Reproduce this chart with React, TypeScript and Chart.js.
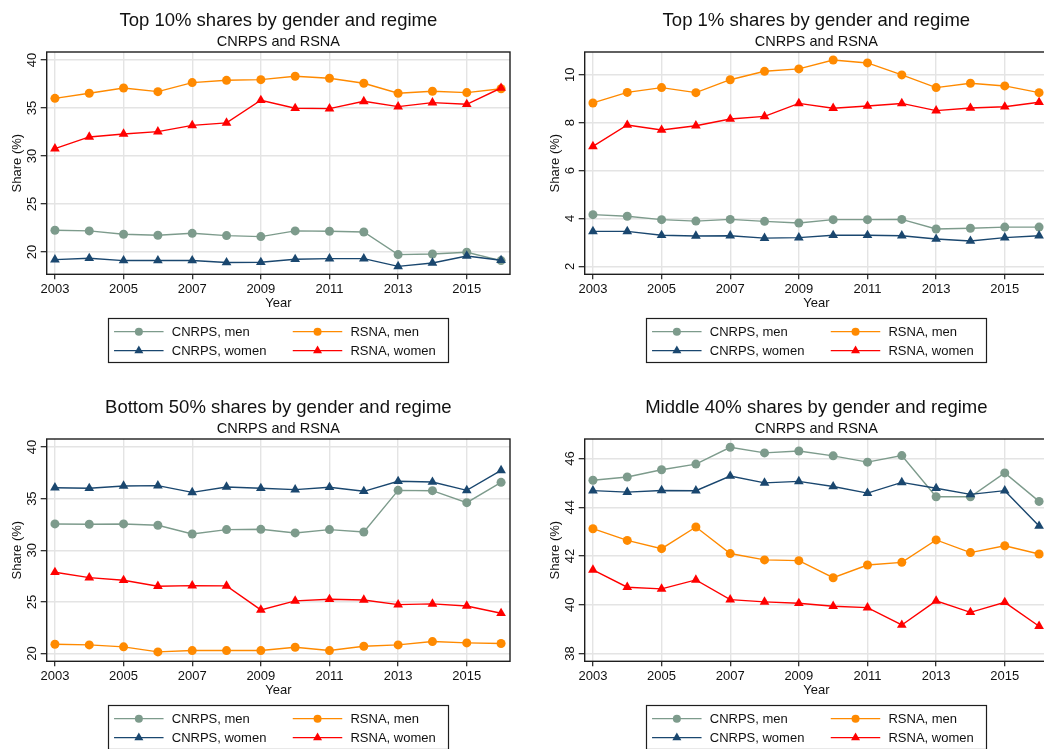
import React, { useEffect, useRef } from "react";
import { Chart, registerables } from "chart.js";

Chart.register(...registerables);

// ---------- DATA ----------
const years = [2003, 2004, 2005, 2006, 2007, 2008, 2009, 2010, 2011, 2012, 2013, 2014, 2015, 2016];
const xTickYears = [2003, 2005, 2007, 2009, 2011, 2013, 2015];

const legendLabels = ["CNRPS, men", "RSNA, men", "CNRPS, women", "RSNA, women"];

// Top 10%
const top10CnrpsMen = [22.26, 22.19, 21.84, 21.74, 21.94, 21.7, 21.6, 22.19, 22.15, 22.08, 19.72, 19.79, 19.97, 19.1];
const top10CnrpsWomen = [19.2, 19.34, 19.1, 19.1, 19.1, 18.9, 18.92, 19.24, 19.3, 19.3, 18.5, 18.85, 19.58, 19.13];
const top10RsnaMen = [36.0, 36.53, 37.08, 36.7, 37.64, 37.88, 37.95, 38.3, 38.09, 37.57, 36.53, 36.74, 36.6, 37.0];
const top10RsnaWomen = [30.76, 31.98, 32.29, 32.53, 33.19, 33.44, 35.8, 34.97, 34.93, 35.69, 35.14, 35.56, 35.38, 37.08];
const top10YTicks = [20, 25, 30, 35, 40];

// Top 1%
const top1CnrpsMen = [4.16, 4.09, 3.95, 3.89, 3.96, 3.88, 3.81, 3.95, 3.95, 3.96, 3.56, 3.59, 3.64, 3.64];
const top1CnrpsWomen = [3.46, 3.46, 3.3, 3.27, 3.28, 3.18, 3.2, 3.3, 3.3, 3.28, 3.14, 3.06, 3.2, 3.28];
const top1RsnaMen = [8.82, 9.26, 9.46, 9.25, 9.79, 10.14, 10.24, 10.61, 10.49, 9.99, 9.46, 9.64, 9.53, 9.25];
const top1RsnaWomen = [7.01, 7.9, 7.69, 7.87, 8.15, 8.26, 8.8, 8.6, 8.69, 8.8, 8.5, 8.61, 8.66, 8.85];
const top1YTicks = [2, 4, 6, 8, 10];

// Bottom 50%
const bot50CnrpsMen = [32.55, 32.52, 32.55, 32.42, 31.58, 32.0, 32.03, 31.68, 32.0, 31.77, 35.8, 35.77, 34.61, 36.58];
const bot50CnrpsWomen = [36.06, 36.0, 36.23, 36.26, 35.61, 36.13, 36.0, 35.87, 36.1, 35.71, 36.68, 36.61, 35.8, 37.74];
const bot50RsnaMen = [20.9, 20.84, 20.65, 20.16, 20.29, 20.29, 20.29, 20.61, 20.29, 20.71, 20.84, 21.16, 21.03, 20.97];
const bot50RsnaWomen = [27.87, 27.35, 27.1, 26.52, 26.58, 26.55, 24.23, 25.1, 25.26, 25.19, 24.74, 24.81, 24.61, 23.9];
const bot50YTicks = [20, 25, 30, 35, 40];

// Middle 40%
const mid40CnrpsMen = [45.11, 45.24, 45.54, 45.77, 46.46, 46.23, 46.31, 46.11, 45.85, 46.12, 44.43, 44.43, 45.41, 44.24];
const mid40CnrpsWomen = [44.68, 44.62, 44.69, 44.68, 45.28, 45.0, 45.06, 44.85, 44.58, 45.02, 44.78, 44.53, 44.68, 43.23];
const mid40RsnaMen = [43.12, 42.64, 42.3, 43.19, 42.1, 41.84, 41.81, 41.11, 41.63, 41.74, 42.66, 42.14, 42.42, 42.08];
const mid40RsnaWomen = [41.43, 40.72, 40.65, 41.02, 40.21, 40.12, 40.06, 39.94, 39.88, 39.17, 40.16, 39.69, 40.1, 39.12];
const mid40YTicks = [38, 40, 42, 44, 46];

// ---------- STYLE ----------
const FONT = '"Liberation Sans", Arial, Helvetica, sans-serif';
const C_CNRPS_MEN = "#7d9b8c";
const C_CNRPS_WOMEN = "#1a476f";
const C_RSNA_MEN = "#ff8a00";
const C_RSNA_WOMEN = "#ff0000";
const TEXT = "#111111";
const GRID = "#e4e4e4";
const FRAME = "#1e1e1e";

const CW = 522;
const CH = 375;

function drawMarker(ctx: CanvasRenderingContext2D, style: string, x: number, y: number, r: number, color: string) {
  ctx.fillStyle = color;
  ctx.beginPath();
  if (style === "circle") {
    ctx.arc(x, y, r, 0, Math.PI * 2);
  } else {
    ctx.moveTo(x, y - r);
    ctx.lineTo(x + r * 0.866, y + r / 2);
    ctx.lineTo(x - r * 0.866, y + r / 2);
    ctx.closePath();
  }
  ctx.fill();
}

const decorPlugin = {
  id: "decor",
  afterDraw(chart: any, _args: any, opts: any) {
    const { ctx, chartArea: ca } = chart;
    ctx.save();
    // frame
    ctx.strokeStyle = FRAME;
    ctx.lineWidth = 1.4;
    ctx.strokeRect(ca.left, ca.top, ca.right - ca.left, ca.bottom - ca.top);

    const cx = (ca.left + ca.right) / 2;
    // titles
    ctx.fillStyle = TEXT;
    ctx.textAlign = "center";
    ctx.textBaseline = "alphabetic";
    ctx.font = `18.5px ${FONT}`;
    ctx.fillText(opts.title, cx, 25.7);
    ctx.font = `14.5px ${FONT}`;
    ctx.fillText(opts.subtitle, cx, 46);

    // legend
    const boxTop = 318;
    const boxH = 44;
    const boxW = 340;
    ctx.strokeStyle = FRAME;
    ctx.lineWidth = 1.2;
    ctx.strokeRect(Math.round(cx - boxW / 2) + 0.5, boxTop + 0.5, boxW, boxH);

    const items = [
      { label: legendLabels[0], color: C_CNRPS_MEN, style: "circle", col: 0, row: 0 },
      { label: legendLabels[1], color: C_RSNA_MEN, style: "circle", col: 1, row: 0 },
      { label: legendLabels[2], color: C_CNRPS_WOMEN, style: "triangle", col: 0, row: 1 },
      { label: legendLabels[3], color: C_RSNA_WOMEN, style: "triangle", col: 1, row: 1 },
    ];
    const rowY = [331.7, 350.7];
    const colX = [cx - 164.3, cx + 14.4];
    ctx.font = `13px ${FONT}`;
    ctx.textAlign = "left";
    ctx.textBaseline = "middle";
    for (const it of items) {
      const x0 = colX[it.col];
      const y = rowY[it.row];
      ctx.strokeStyle = it.color;
      ctx.lineWidth = 1.3;
      ctx.beginPath();
      ctx.moveTo(x0, y);
      ctx.lineTo(x0 + 49.5, y);
      ctx.stroke();
      drawMarker(ctx, it.style, x0 + 24.8, y, it.style === "circle" ? 4 : 5.2, it.color);
      ctx.fillStyle = TEXT;
      ctx.fillText(it.label, x0 + 57.7, y + 0.5);
    }
    ctx.restore();
  },
};

type PanelProps = {
  title: string;
  cnrpsMen: number[];
  cnrpsWomen: number[];
  rsnaMen: number[];
  rsnaWomen: number[];
  yMin: number;
  yMax: number;
  yTicks: number[];
  left: number;
  top: number;
};

function Panel(p: PanelProps) {
  const ref = useRef<HTMLCanvasElement | null>(null);
  useEffect(() => {
    if (!ref.current) return;
    const mk = (label: string, data: number[], color: string, style: string) => ({
      label,
      data: data.map((v, i) => ({ x: years[i], y: v })),
      borderColor: color,
      backgroundColor: color,
      pointBackgroundColor: color,
      pointBorderColor: color,
      pointBorderWidth: 0,
      pointStyle: style,
      pointRadius: style === "circle" ? 4.5 : 5.6,
      borderWidth: 1.4,
      tension: 0,
      fill: false,
    });
    const chart = new Chart(ref.current, {
      type: "line",
      data: {
        datasets: [
          mk(legendLabels[3], p.rsnaWomen, C_RSNA_WOMEN, "triangle"),
          mk(legendLabels[1], p.rsnaMen, C_RSNA_MEN, "circle"),
          mk(legendLabels[2], p.cnrpsWomen, C_CNRPS_WOMEN, "triangle"),
          mk(legendLabels[0], p.cnrpsMen, C_CNRPS_MEN, "circle"),
        ] as any,
      },
      options: {
        animation: false,
        responsive: false,
        devicePixelRatio: 1,
        layout: { padding: { top: 52, right: 12, bottom: CH - 274.3 - 40.5, left: 0 } },
        plugins: {
          legend: { display: false },
          tooltip: { enabled: false },
          title: { display: false },
          decor: { title: p.title, subtitle: "CNRPS and RSNA" },
        } as any,
        scales: {
          x: {
            type: "linear",
            min: 2002.76,
            max: 2016.26,
            afterBuildTicks: (s: any) => {
              s.ticks = xTickYears.map((v) => ({ value: v }));
            },
            afterFit: (s: any) => {
              s.height = 40.5;
            },
            grid: { color: GRID, lineWidth: 1.4, tickColor: FRAME, tickLength: 5, tickWidth: 1.2 },
            border: { display: false },
            ticks: {
              autoSkip: false,
              maxRotation: 0,
              padding: 2,
              color: TEXT,
              font: { family: FONT, size: 13 },
              callback: (v: any) => String(v),
            },
            title: {
              display: true,
              text: "Year",
              color: TEXT,
              font: { family: FONT, size: 13 },
              padding: { top: 0, bottom: 4 },
            },
          },
          y: {
            type: "linear",
            min: p.yMin,
            max: p.yMax,
            afterBuildTicks: (s: any) => {
              s.ticks = p.yTicks.map((v) => ({ value: v }));
            },
            afterFit: (s: any) => {
              s.width = 46.7;
            },
            grid: { color: GRID, lineWidth: 1.4, tickColor: FRAME, tickLength: 6, tickWidth: 1.2 },
            border: { display: false },
            ticks: {
              autoSkip: false,
              minRotation: 90,
              maxRotation: 90,
              crossAlign: "center",
              padding: 1.5,
              color: TEXT,
              font: { family: FONT, size: 13 },
              callback: (v: any) => String(v),
            },
            title: {
              display: true,
              text: "Share (%)",
              color: TEXT,
              font: { family: FONT, size: 13 },
              padding: { top: 9.5, bottom: 0 },
            },
          },
        },
      } as any,
      plugins: [decorPlugin as any],
    });
    return () => chart.destroy();
  }, []);
  return (
    <div style={{ position: "absolute", left: p.left, top: p.top, width: CW, height: CH }}>
      <canvas ref={ref} width={CW} height={CH} style={{ width: CW, height: CH, display: "block" }} />
    </div>
  );
}

export default function App() {
  return (
    <div
      style={{
        position: "fixed",
        left: 0,
        top: 0,
        width: 1044,
        height: 749,
        overflow: "hidden",
        background: "#ffffff",
      }}
    >
      <Panel
        title="Top 10% shares by gender and regime"
        cnrpsMen={top10CnrpsMen}
        cnrpsWomen={top10CnrpsWomen}
        rsnaMen={top10RsnaMen}
        rsnaWomen={top10RsnaWomen}
        yMin={17.67}
        yMax={40.83}
        yTicks={top10YTicks}
        left={0}
        top={0}
      />
      <Panel
        title="Top 1% shares by gender and regime"
        cnrpsMen={top1CnrpsMen}
        cnrpsWomen={top1CnrpsWomen}
        rsnaMen={top1RsnaMen}
        rsnaWomen={top1RsnaWomen}
        yMin={1.67}
        yMax={10.946}
        yTicks={top1YTicks}
        left={538}
        top={0}
      />
      <Panel
        title="Bottom 50% shares by gender and regime"
        cnrpsMen={bot50CnrpsMen}
        cnrpsWomen={bot50CnrpsWomen}
        rsnaMen={bot50RsnaMen}
        rsnaWomen={bot50RsnaWomen}
        yMin={19.25}
        yMax={40.774}
        yTicks={bot50YTicks}
        left={0}
        top={387}
      />
      <Panel
        title="Middle 40% shares by gender and regime"
        cnrpsMen={mid40CnrpsMen}
        cnrpsWomen={mid40CnrpsWomen}
        rsnaMen={mid40RsnaMen}
        rsnaWomen={mid40RsnaWomen}
        yMin={37.68}
        yMax={46.8}
        yTicks={mid40YTicks}
        left={538}
        top={387}
      />
    </div>
  );
}
